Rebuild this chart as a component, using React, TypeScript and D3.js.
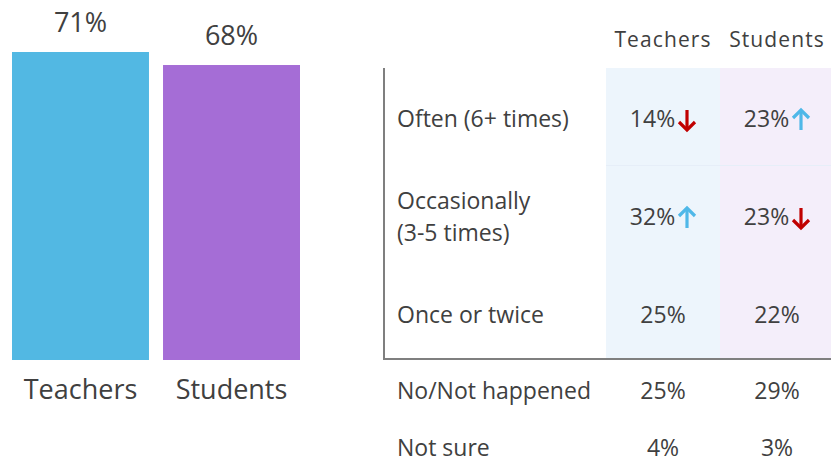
import React from "react";
import * as d3 from "d3";

const groups = ["Teachers", "Students"];
const overall = [71, 68];
const barColors = ["#52B8E3", "#A56DD6"];

const topRows = [["Often (6+ times)"], ["Occasionally", "(3-5 times)"], ["Once or twice"]];
const topTeachers = [14, 32, 25];
const topStudents = [23, 23, 22];
const topTeacherTrend = ["down", "up", ""];
const topStudentTrend = ["up", "down", ""];

const bottomRows = ["No/Not happened", "Not sure"];
const bottomTeachers = [25, 4];
const bottomStudents = [29, 3];

const W = 831, H = 463;
const FONT = "'Open Sans', sans-serif";
const TXT = "#404040";
const UP = "#4FB8E8";
const DOWN = "#C00000";

function Arrow({ x, y, dir }: { x: number; y: number; dir: string }) {
  const c = dir === "up" ? UP : DOWN;
  const h = 10, w = 8;
  const s = dir === "up" ? -1 : 1;
  return (
    <g stroke={c} strokeWidth={3.2} fill="none" strokeLinecap="butt">
      <line x1={x} y1={y - s * h} x2={x} y2={y + s * (h - 1)} />
      <polyline points={`${x - w},${y + s * (h - 8)} ${x},${y + s * h} ${x + w},${y + s * (h - 8)}`} />
    </g>
  );
}

export default function App() {
  const x = d3.scaleBand().domain(groups).range([12, 300]).paddingInner(0.093);
  const y = d3.scaleLinear().domain([0, 71]).range([360, 52]);

  const colX = d3.scaleOrdinal<string, number>().domain(groups).range([663, 777]);
  const rowY = d3.scalePoint<number>().domain(d3.range(topRows.length)).range([119, 315]);
  const botY = d3.scalePoint<number>().domain(d3.range(bottomRows.length)).range([391, 448]);

  const fs = 23;
  const valueCell = (cx: number, cy: number, v: number, trend: string, key: string) => {
    const tw = 45;
    const aw = trend ? 21 : 0;
    const total = tw + aw;
    const left = cx - total / 2;
    return (
      <g key={key}>
        <text x={left + tw / 2} y={cy} dy="0.35em" textAnchor="middle" fontSize={fs} fill={TXT} fontFamily={FONT}>
          {v}%
        </text>
        {trend && <Arrow x={left + tw + 12} y={cy + 1} dir={trend} />}
      </g>
    );
  };

  return (
    <svg width={W} height={H} style={{ position: "absolute", left: 0, top: 0, background: "#fff" }}>
      {groups.map((g, i) => (
        <g key={g}>
          <rect x={x(g)} y={y(overall[i])} width={x.bandwidth()} height={360 - y(overall[i])} fill={barColors[i]} />
          <text x={x(g)! + x.bandwidth() / 2} y={y(overall[i]) - 29} dy="0.35em" textAnchor="middle" fontSize={27} fill={TXT} fontFamily={FONT}>
            {overall[i]}%
          </text>
          <text x={x(g)! + x.bandwidth() / 2} y={390} dy="0.35em" textAnchor="middle" fontSize={27} fill={TXT} fontFamily={FONT}>
            {g}
          </text>
        </g>
      ))}

      <rect x={606} y={68} width={114} height={290} fill="#EDF5FC" />
      <rect x={720} y={68} width={111} height={290} fill="#F4EEFA" />
      <line x1={606} x2={831} y1={165.5} y2={165.5} stroke="#E6EEF8" strokeWidth={1} />

      {groups.map((g) => (
        <text key={g} x={colX(g)} y={40} dy="0.35em" textAnchor="middle" fontSize={21} fill={TXT} fontFamily={FONT} letterSpacing={1.1}>
          {g}
        </text>
      ))}

      <line x1={384} x2={384} y1={68} y2={360} stroke="#7F7F7F" strokeWidth={2} />
      <line x1={383} x2={831} y1={359} y2={359} stroke="#7F7F7F" strokeWidth={2} />

      {topRows.map((lines, i) => {
        const cy = rowY(i)!;
        const lh = 32;
        return (
          <g key={i}>
            {lines.map((ln, j) => (
              <text key={j} x={397} y={cy + (j - (lines.length - 1) / 2) * lh} dy="0.35em" fontSize={fs} fill={TXT} fontFamily={FONT}>
                {ln}
              </text>
            ))}
            {valueCell(colX("Teachers"), cy, topTeachers[i], topTeacherTrend[i], "t" + i)}
            {valueCell(colX("Students"), cy, topStudents[i], topStudentTrend[i], "s" + i)}
          </g>
        );
      })}

      {bottomRows.map((r, i) => {
        const cy = botY(i)!;
        return (
          <g key={r}>
            <text x={397} y={cy} dy="0.35em" fontSize={fs} fill={TXT} fontFamily={FONT}>{r}</text>
            {valueCell(colX("Teachers"), cy, bottomTeachers[i], "", "bt" + i)}
            {valueCell(colX("Students"), cy, bottomStudents[i], "", "bs" + i)}
          </g>
        );
      })}
    </svg>
  );
}
